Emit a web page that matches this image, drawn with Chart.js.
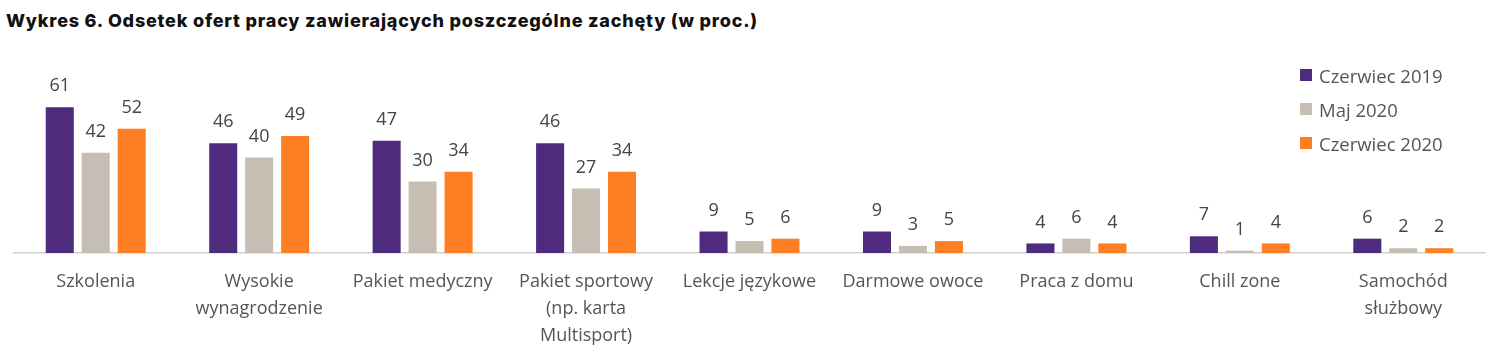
<!DOCTYPE html>
<html><head><meta charset="utf-8">
<script src="https://cdn.jsdelivr.net/npm/chart.js@4/dist/chart.umd.min.js"></script>
<style>
html,body{margin:0;padding:0;background:#fff;}
#wrap{position:relative;width:1497px;height:356px;overflow:hidden;}
#title{position:absolute;left:6px;top:10px;font-family:"Inter","DejaVu Sans",sans-serif;font-weight:800;font-size:18px;color:#111;white-space:nowrap;letter-spacing:0.8px;}
#cv{position:absolute;left:0;top:0;}
#legend{position:absolute;left:1300px;top:58px;font-family:"Open Sans",sans-serif;font-size:18.5px;color:#555;}
#legend div{height:34px;display:flex;align-items:center;}
#legend span.sw{display:inline-block;width:12px;height:12px;margin-right:7px;}
</style></head>
<body><div id="wrap">
<div id="title">Wykres 6. Odsetek ofert pracy zawierających poszczególne zachęty (w proc.)</div>
<canvas id="cv" width="1497" height="356"></canvas>
<div id="legend"></div>
</div>
<script>
const categories = [
  "Szkolenia",
  ["Wysokie","wynagrodzenie"],
  "Pakiet medyczny",
  ["Pakiet sportowy","(np. karta","Multisport)"],
  "Lekcje językowe",
  "Darmowe owoce",
  "Praca z domu",
  "Chill zone",
  ["Samochód","służbowy"]
];
const seriesNames = ["Czerwiec 2019","Maj 2020","Czerwiec 2020"];
const czerwiec2019 = [61,46,47,46,9,9,4,7,6];
const maj2020 = [42,40,30,27,5,3,6,1,2];
const czerwiec2020 = [52,49,34,34,6,5,4,4,2];
const colors = ["#4f2b7d","#c6beb2","#fd7e23"];

const legend = document.getElementById('legend');
seriesNames.forEach((n,i)=>{
  const d=document.createElement('div');
  d.innerHTML='<span class="sw" style="background:'+colors[i]+'"></span>'+n;
  legend.appendChild(d);
});

const valueLabels = {
  id:'valueLabels',
  afterDatasetsDraw(chart){
    const ctx=chart.ctx;
    ctx.save();
    ctx.font='18px "Open Sans", sans-serif';
    ctx.fillStyle='#444';
    ctx.textAlign='center';
    ctx.textBaseline='bottom';
    chart.data.datasets.forEach((ds,di)=>{
      chart.getDatasetMeta(di).data.forEach((bar,i)=>{
        ctx.fillText(String(ds.data[i]), bar.x, bar.y-12);
      });
    });
    ctx.restore();
  }
};

new Chart(document.getElementById('cv'),{
  type:'bar',
  data:{
    labels:categories,
    datasets:[
      {label:seriesNames[0],data:czerwiec2019,backgroundColor:colors[0]},
      {label:seriesNames[1],data:maj2020,backgroundColor:colors[1]},
      {label:seriesNames[2],data:czerwiec2020,backgroundColor:colors[2]}
    ]
  },
  options:{
    responsive:false,
    animation:false,
    layout:{padding:{top:62,left:14,right:12,bottom:0}},
    datasets:{bar:{categoryPercentage:0.66,barPercentage:0.78}},
    plugins:{legend:{display:false},tooltip:{enabled:false}},
    scales:{
      y:{display:false,min:0,max:80},
      x:{
        grid:{display:false},
        border:{display:true,color:'#cfcfcf',width:1.5},
        ticks:{color:'#555',font:{family:'"Open Sans", sans-serif',size:18,lineHeight:1.5},padding:7,maxRotation:0,autoSkip:false}
      }
    }
  },
  plugins:[valueLabels]
});
</script>
</body></html>
